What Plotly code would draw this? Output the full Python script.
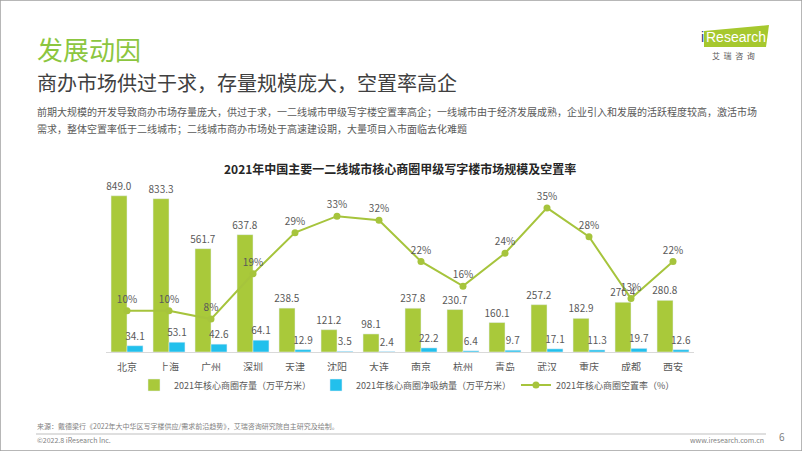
import plotly.graph_objects as go

cities = ["北京", "上海", "广州", "深圳", "天津", "沈阳", "大连", "南京", "杭州", "青岛", "武汉", "重庆", "成都", "西安"]
stock = [849.0, 833.3, 561.7, 637.8, 238.5, 121.2, 98.1, 237.8, 230.7, 160.1, 257.2, 182.9, 270.4, 280.8]
absorption = [34.1, 53.1, 42.6, 64.1, 12.9, 3.5, 2.4, 22.2, 6.4, 9.7, 17.1, 11.3, 19.7, 12.6]
vacancy = [10, 10, 8, 19, 29, 33, 32, 22, 16, 24, 35, 28, 13, 22]

W, H = 802, 451
FONT = "Noto Sans CJK SC"
GREEN = "#a9c93a"
BLUE = "#22c0ec"
LINE = "#a6c43c"
GRAY = "#595959"

def px(x):
    return x / W

def py(y):
    return 1 - y / H

fig = go.Figure()
fig.add_trace(go.Bar(
    x=cities, y=stock, name="2021年核心商圈存量（万平方米）",
    marker_color=GREEN, texttemplate="%{y:.1f}", textposition="outside",
    constraintext="none",
    textfont=dict(size=10, color=GRAY), cliponaxis=False,
))
fig.add_trace(go.Bar(
    x=cities, y=absorption, name="2021年核心商圈净吸纳量（万平方米）",
    marker_color=BLUE, texttemplate="%{y:.1f}", textposition="outside",
    constraintext="none",
    textfont=dict(size=10, color=GRAY), cliponaxis=False,
))
fig.add_trace(go.Scatter(
    x=cities, y=vacancy, name="2021年核心商圈空置率（%）", yaxis="y2",
    mode="lines+markers+text", line=dict(color=LINE, width=2),
    marker=dict(color=LINE, size=7),
    texttemplate="%{y}%", textposition="top center",
    textfont=dict(size=10, color=GRAY), cliponaxis=False,
))

annotations = [
    dict(text="发展动因", x=px(35), y=py(48), font=dict(size=26, color="#8cc63f")),
    dict(text="商办市场供过于求，存量规模庞大，空置率高企", x=px(35), y=py(82), font=dict(size=20, color="#404040")),
    dict(text="前期大规模的开发导致商办市场存量庞大，供过于求，一二线城市甲级写字楼空置率高企；一线城市由于经济发展成熟，企业引入和发展的活跃程度较高，激活市场",
         x=px(35), y=py(112), font=dict(size=10, color=GRAY)),
    dict(text="需求，整体空置率低于二线城市；二线城市商办市场处于高速建设期，大量项目入市面临去化难题",
         x=px(35), y=py(128), font=dict(size=10, color=GRAY)),
    dict(text="来源：戴德梁行《2022年大中华区写字楼供应/需求前沿趋势》，艾瑞咨询研究院自主研究及绘制。",
         x=px(35), y=py(426), font=dict(size=7, color="#7f7f7f")),
    dict(text="©2022.8 iResearch Inc.", x=px(35), y=py(440), font=dict(size=7, color="#7f7f7f")),
    dict(text="i", x=px(699), y=py(37), font=dict(size=14, color="#1f3c88", family="Arial")),
    dict(text="Research", x=px(704), y=py(37), font=dict(size=14, color="white", family="Arial")),
]
for a in annotations:
    a.update(xref="paper", yref="paper", xanchor="left", yanchor="middle", showarrow=False)

annotations += [
    dict(text="<b>2021年中国主要一二线城市核心商圈甲级写字楼市场规模及空置率</b>", x=px(400), y=py(168),
         xref="paper", yref="paper", xanchor="center", yanchor="middle", showarrow=False,
         font=dict(size=12, color="#262626")),
    dict(text="www.iresearch.com.cn", x=px(766), y=py(440), xref="paper", yref="paper",
         xanchor="right", yanchor="middle", showarrow=False, font=dict(size=7, color="#7f7f7f")),
    dict(text="6", x=px(782), y=py(436), xref="paper", yref="paper",
         xanchor="center", yanchor="middle", showarrow=False, font=dict(size=10, color="#7f7f7f")),
    dict(text="艾  瑞  咨  询", x=px(733), y=py(56), xref="paper", yref="paper",
         xanchor="center", yanchor="middle", showarrow=False, font=dict(size=8, color="#595959")),
]

shapes = [
    dict(type="rect", xref="paper", yref="paper", x0=0, x1=1, y0=0, y1=1,
         line=dict(color="#a0a0a0", width=1.5)),
    dict(type="line", xref="paper", yref="paper", x0=px(36), x1=px(766), y0=py(434), y1=py(434),
         line=dict(color="#bfbfbf", width=1)),
    dict(type="path", xref="paper", yref="paper",
         path=f"M {px(704)} {py(31)} L {px(769)} {py(25)} L {px(766)} {py(47)} L {px(704)} {py(47)} Z",
         fillcolor="#a6c82e", line=dict(width=0), layer="below"),
]

fig.update_layout(
    width=W, height=H,
    margin=dict(l=0, r=0, t=0, b=0),
    paper_bgcolor="white", plot_bgcolor="white",
    font=dict(family=FONT, color=GRAY, size=10),
    barmode="group", bargap=0.24, bargroupgap=0,
    showlegend=True,
    legend=dict(orientation="h", x=px(134), y=py(385), xanchor="left", yanchor="middle",
                font=dict(size=9, color=GRAY), itemwidth=30, tracegroupgap=0),
    xaxis=dict(domain=[px(106), px(694)], range=[-0.5, len(cities) - 0.5], autorange=False,
               showgrid=False, showline=True, linecolor="#d9d9d9",
               ticks="", ticklabelstandoff=6, tickfont=dict(size=10, color=GRAY)),
    yaxis=dict(domain=[py(352), py(168)], range=[0, 1000], visible=False, showgrid=False),
    yaxis2=dict(overlaying="y", range=[0, 44.7], visible=False, showgrid=False),
    annotations=annotations,
    shapes=shapes,
)

fig.write_html("out.html", config={"displayModeBar": False},
               post_script="document.body.style.margin='0';")
